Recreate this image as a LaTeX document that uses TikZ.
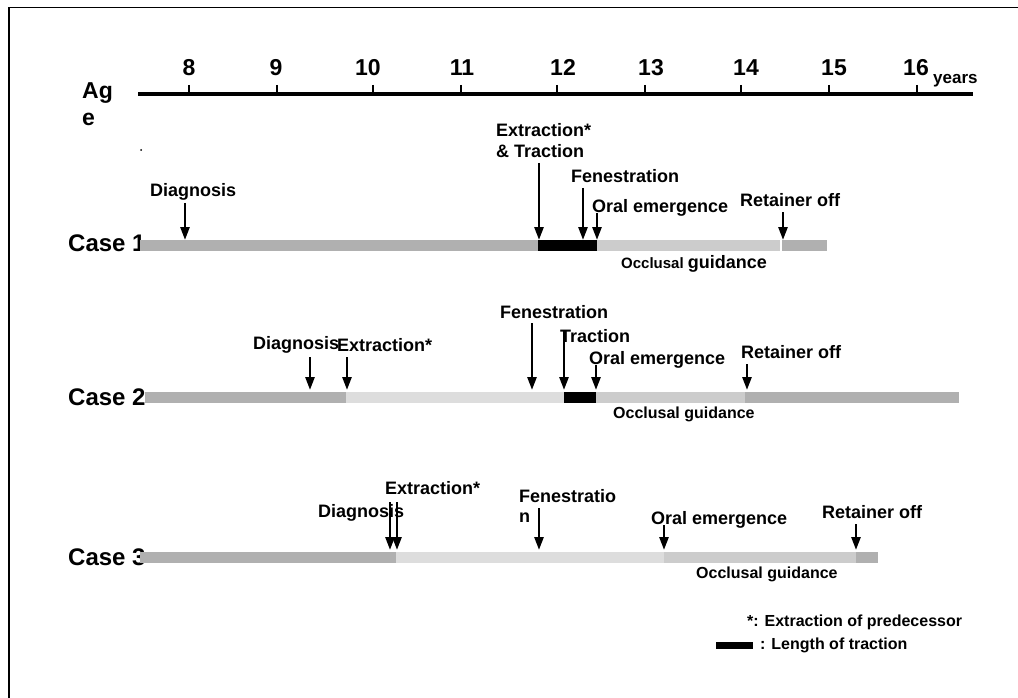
\documentclass[tikz,border=0pt]{standalone}
\usepackage{fontspec}
\setmainfont{Liberation Sans}
\usetikzlibrary{arrows.meta}
\definecolor{bardark}{HTML}{B0B0B0}
\definecolor{barmid}{HTML}{CCCCCC}
\definecolor{barlight}{HTML}{DDDDDD}
\tikzset{
  txt/.style={inner sep=0pt, anchor=west, font=\fontsize{18}{18}\selectfont\bfseries},
  big/.style={inner sep=0pt, font=\fontsize{23}{23}\selectfont\bfseries},
  digit/.style={inner sep=0pt, anchor=base, font=\fontsize{23}{23}\selectfont\bfseries},
  casel/.style={inner sep=0pt, anchor=west, font=\fontsize{24}{24}\selectfont\bfseries},
  small/.style={inner sep=0pt, anchor=west, font=\fontsize{16}{16}\selectfont\bfseries},
  evarrow/.style={line width=2.6pt, -{Triangle[length=13pt,width=9pt]}},
  tick/.style={line width=2pt},
}
\begin{document}
\begin{tikzpicture}[x=1pt,y=-1pt]
\useasboundingbox (0,0) rectangle (1018,698);
% frame
\draw[line width=1.5pt] (1018,7.5) -- (9,7.5) -- (9,698);
% axis
\draw[line width=4pt] (138,94) -- (973,94);
\foreach \t in {189,277,373,461,557,645,741,829,917}
  \draw[tick] (\t,85) -- (\t,93);
\node[digit] (a8)  at (189,76) {8};
\node[digit] (a9)  at (276,76) {9};
\node[digit] (a10) at (368,76) {10};
\node[digit] (a11) at (462,76) {11};
\node[digit] (a12) at (563,76) {12};
\node[digit] (a13) at (651,76) {13};
\node[digit] (a14) at (746,76) {14};
\node[digit] (a15) at (834,76) {15};
\node[digit] (a16) at (916,76) {16};
\node[inner sep=0pt, anchor=west, font=\fontsize{17}{17}\selectfont\bfseries] (years) at (933,81) {years};
\node[big, anchor=west] (ag) at (82,93) {Ag};
\node[big, anchor=west] (age) at (82,119) {e};
\fill (141,150) circle (1pt);

% ---------- Case 1 ----------
\node[casel] (case1) at (68,243) {Case 1};
\fill[bardark] (140,240) rectangle (538,251);
\fill[black] (538,240) rectangle (597,251);
\fill[barmid] (597,240) rectangle (780,251);
\fill[bardark] (782,240) rectangle (827,251);
\node[txt] (diag1) at (150,192) {Diagnosis};
\node[txt] (ext1) at (496,130) {Extraction*};
\node[txt] (trac1) at (496,151) {\& Traction};
\node[txt] (fen1) at (571,176) {Fenestration};
\node[txt] (oral1) at (592,208) {Oral emergence};
\node[txt] (ret1) at (740,200) {Retainer off};
\node[inner sep=0pt, anchor=west] (occ1) at (621,264) {\bfseries\fontsize{15}{15}\selectfont Occlusal \fontsize{18}{18}\selectfont guidance};
\coordinate (d1s) at (185,203); \coordinate (d1e) at (185,240);
\coordinate (e1s) at (539,163); \coordinate (e1e) at (539,240);
\coordinate (f1s) at (583,188); \coordinate (f1e) at (583,240);
\coordinate (o1s) at (597,213); \coordinate (o1e) at (597,240);
\coordinate (r1s) at (783,212); \coordinate (r1e) at (783,240);
\foreach \s/\e in {d1s/d1e,e1s/e1e,f1s/f1e,o1s/o1e,r1s/r1e}
  \draw[evarrow] (\s) -- (\e);

% ---------- Case 2 ----------
\node[casel] (case2) at (68,397) {Case 2};
\fill[bardark] (145,392) rectangle (346,403);
\fill[barlight] (346,392) rectangle (564,403);
\fill[black] (564,392) rectangle (596,403);
\fill[barmid] (596,392) rectangle (745,403);
\fill[bardark] (745,392) rectangle (959,403);
\node[txt] (diag2) at (253,345) {Diagnosis};
\node[txt] (ext2) at (337,345) {Extraction*};
\node[txt] (fen2) at (500,312) {Fenestration};
\node[txt] (trac2) at (560,336) {Traction};
\node[txt] (oral2) at (589,360) {Oral emergence};
\node[txt] (ret2) at (741,352) {Retainer off};
\node[small] (occ2) at (613,414) {Occlusal guidance};
\coordinate (d2s) at (310,357); \coordinate (d2e) at (310,390);
\coordinate (e2s) at (347,357); \coordinate (e2e) at (347,390);
\coordinate (f2s) at (532,323); \coordinate (f2e) at (532,390);
\coordinate (t2s) at (564,330); \coordinate (t2e) at (564,390);
\coordinate (o2s) at (596,365); \coordinate (o2e) at (596,390);
\coordinate (r2s) at (747,364); \coordinate (r2e) at (747,390);
\foreach \s/\e in {d2s/d2e,e2s/e2e,f2s/f2e,t2s/t2e,o2s/o2e,r2s/r2e}
  \draw[evarrow] (\s) -- (\e);

% ---------- Case 3 ----------
\node[casel] (case3) at (68,557) {Case 3};
\fill[bardark] (140,552) rectangle (396,563);
\fill[barlight] (396,552) rectangle (664,563);
\fill[barmid] (664,552) rectangle (856,563);
\fill[bardark] (856,552) rectangle (878,563);
\node[txt] (diag3) at (318,513) {Diagnosis};
\node[txt] (ext3) at (385,488) {Extraction*};
\node[txt] (fen3) at (519,496) {Fenestratio};
\node[txt] (fen3b) at (519,518) {n};
\node[txt] (oral3) at (651,520) {Oral emergence};
\node[txt] (ret3) at (822,512) {Retainer off};
\node[small] (occ3) at (696,574) {Occlusal guidance};
\coordinate (d3s) at (390,502); \coordinate (d3e) at (390,550);
\coordinate (e3s) at (397,502); \coordinate (e3e) at (397,550);
\coordinate (f3s) at (539,508); \coordinate (f3e) at (539,550);
\coordinate (o3s) at (664,525); \coordinate (o3e) at (664,550);
\coordinate (r3s) at (856,524); \coordinate (r3e) at (856,550);
\foreach \s/\e in {d3s/d3e,e3s/e3e,f3s/f3e,o3s/o3e,r3s/r3e}
  \draw[evarrow] (\s) -- (\e);

% ---------- Legend ----------
\node[small] (leg1) at (747,622) {*: Extraction of predecessor};
\fill[black] (716,642) rectangle (753,649);
\node[small] (leg2) at (760,645) {: Length of traction};
\end{tikzpicture}
\end{document}
